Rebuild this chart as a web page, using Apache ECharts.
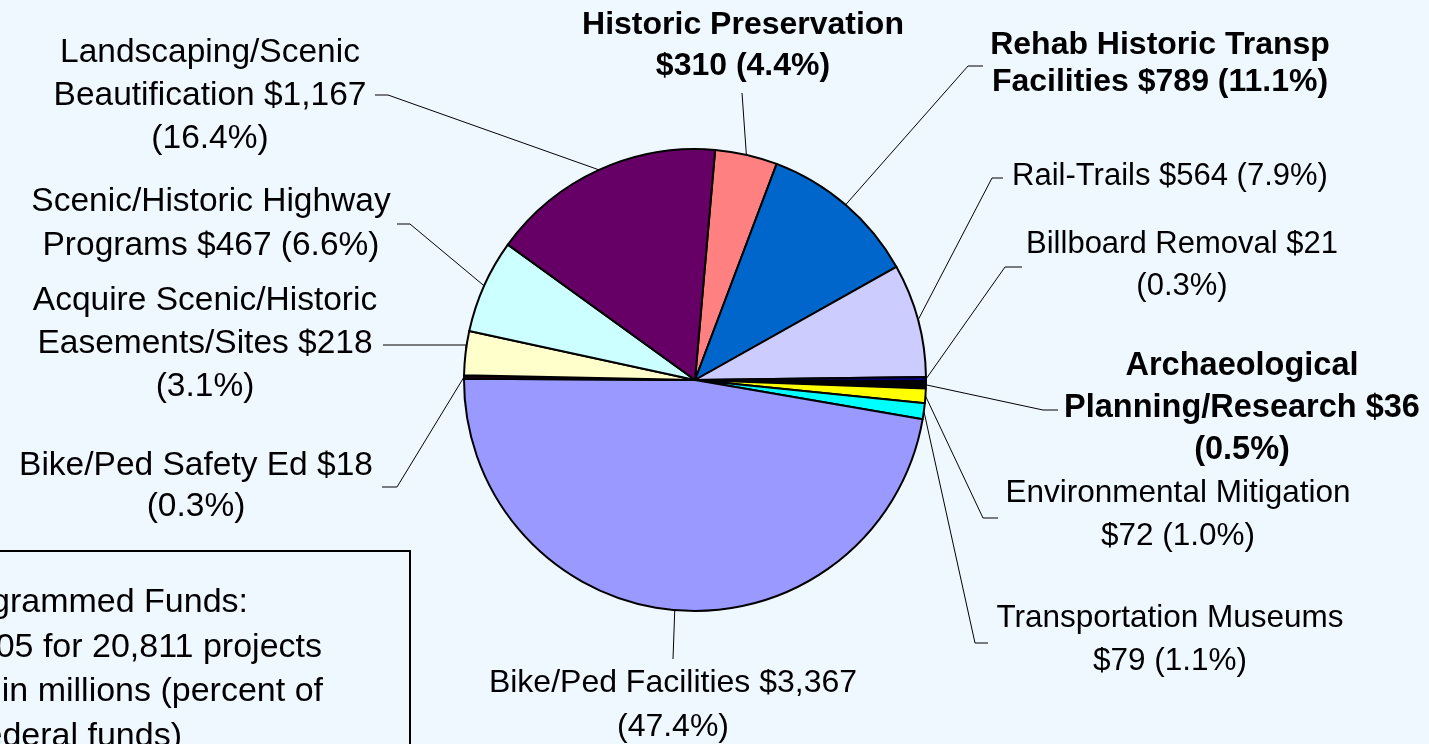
<!DOCTYPE html>
<html>
<head>
<meta charset="utf-8">
<script src="https://cdn.jsdelivr.net/npm/echarts@6/dist/echarts.min.js"></script>
<style>
  html, body { margin: 0; padding: 0; background: #F0F8FF; }
  #chart { width: 1429px; height: 744px; }
</style>
</head>
<body>
<div id="chart"></div>
<script>
// slices, clockwise from the top
const categories = [
  'Historic Preservation',
  'Rehab Historic Transp\nFacilities',
  'Rail-Trails',
  'Billboard Removal',
  'Archaeological\nPlanning/Research',
  'Environmental Mitigation',
  'Transportation Museums',
  'Bike/Ped Facilities',
  'Bike/Ped Safety Ed',
  'Acquire Scenic/Historic\nEasements/Sites',
  'Scenic/Historic Highway\nPrograms',
  'Landscaping/Scenic\nBeautification'
];
const values = [310, 789, 564, 21, 36, 72, 79, 3367, 18, 218, 467, 1167];
const boldLabels = [true, true, false, false, true, false, false, false, false, false, false, false];
// where the label text wraps
const breakBeforeValue = [true, false, false, false, false, true, true, false, false, false, false, false];
const breakBeforePercent = [false, false, false, true, true, false, false, true, true, true, false, true];

const noteLines = ['Total Programmed Funds:', '$7,105 for 20,811 projects', 'Amounts in millions (percent of', 'federal funds)'];

const colors = ['#FF8080', '#0066CC', '#CCCCFF', '#000080', '#000000', '#FFFF00', '#00FFFF',
                '#9999FF', '#1a0010', '#FFFFCC', '#CCFFFF', '#660066'];

// label placement: centre of text block, font size and leader line bend points
const labelPlaces = [
  {x: 743, y: 46, lh: 41, fs: 32, line: [[742, 93]]},
  {x: 1160, y: 64, lh: 37, fs: 32, line: [[968, 66], [983, 66]]},
  {x: 1170, y: 176, lh: 42, fs: 31, line: [[992, 178], [1003, 178]]},
  {x: 1182, y: 265, lh: 42, fs: 31, line: [[1005, 267], [1022, 267]]},
  {x: 1242, y: 408, lh: 42, fs: 32.5, line: [[1043, 410], [1058, 410]]},
  {x: 1178, y: 515, lh: 43, fs: 31.5, line: [[983, 518], [998, 518]]},
  {x: 1170, y: 640, lh: 43, fs: 31.5, line: [[975, 643], [988, 643]]},
  {x: 673, y: 705, lh: 44, fs: 32, line: [[673, 659]]},
  {x: 196, y: 486, lh: 41, fs: 33.5, line: [[397, 487], [382, 487]]},
  {x: 205, y: 344, lh: 43, fs: 33.5, line: [[466, 345], [383, 345]]},
  {x: 211, y: 224, lh: 44, fs: 33.5, line: [[410, 224], [397, 224]]},
  {x: 210, y: 96, lh: 43, fs: 33.5, line: [[388, 95], [375, 95]]}
];

const total = values.reduce(function (a, b) { return a + b; }, 0);

function labelText(i) {
  var v = '$' + values[i].toLocaleString('en-US');
  var p = '(' + (values[i] / total * 100).toFixed(1) + '%)';
  return categories[i] + (breakBeforeValue[i] ? '\n' : ' ') + v + (breakBeforePercent[i] ? '\n' : ' ') + p;
}

const FONT = '"Liberation Sans", Arial, Helvetica, sans-serif';

var chart = echarts.init(document.getElementById('chart'));

chart.setOption({
  backgroundColor: '#F0F8FF',
  animation: false,
  series: [{
    type: 'pie',
    center: [695, 380],
    radius: 231,
    startAngle: 85,
    clockwise: true,
    avoidLabelOverlap: false,
    itemStyle: { borderColor: '#000', borderWidth: 2 },
    emphasis: { disabled: true },
    label: {
      show: true,
      position: 'outside',
      color: '#000',
      fontFamily: FONT,
      fontSize: 31,
      lineHeight: 43
    },
    labelLine: {
      show: true,
      length: 20,
      length2: 10,
      smooth: false,
      lineStyle: { color: '#000', width: 1 }
    },
    labelLayout: function (params) {
      var L = labelPlaces[params.dataIndex];
      var p0 = params.labelLinePoints ? params.labelLinePoints[0] : L.line[0];
      var pts = [p0].concat(L.line);
      while (pts.length < 3) pts.push(pts[pts.length - 1]);
      return { x: L.x, y: L.y, align: 'center', verticalAlign: 'middle', labelLinePoints: pts };
    },
    data: categories.map(function (c, i) {
      return {
        name: c,
        value: values[i],
        itemStyle: { color: colors[i] },
        label: {
          formatter: labelText(i),
          fontWeight: boldLabels[i] ? 'bold' : 'normal',
          fontSize: labelPlaces[i].fs,
          lineHeight: labelPlaces[i].lh
        }
      };
    })
  }],
  graphic: [
    {
      type: 'rect',
      shape: { x: -20, y: 551, width: 430, height: 240 },
      style: { fill: '#F0F8FF', stroke: '#000', lineWidth: 2 }
    }
  ].concat(noteLines.map(function (t, i) {
    var ends = [248, 322, 323, 182];
    return {
      type: 'text',
      style: {
        text: t, x: ends[i], y: 603 + i * 44.5,
        textAlign: 'right', textVerticalAlign: 'middle',
        fontSize: 34, fontFamily: FONT, fill: '#000'
      }
    };
  }))
});
</script>
</body>
</html>
